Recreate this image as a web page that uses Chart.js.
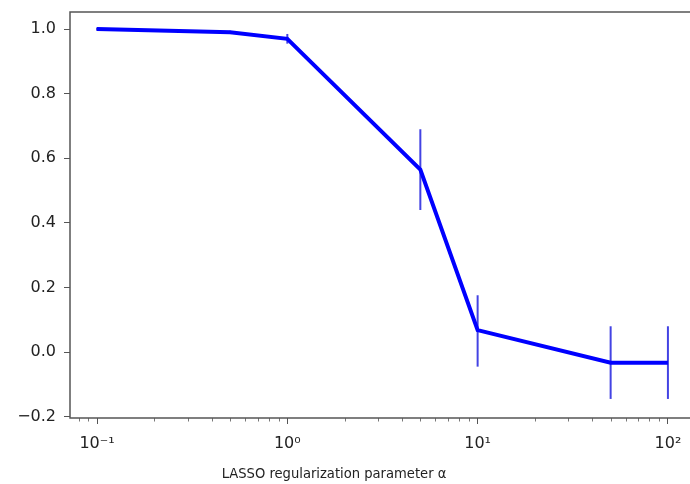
<!DOCTYPE html>
<html>
<head>
<meta charset="utf-8">
<script src="https://cdn.jsdelivr.net/npm/chart.js@4"></script>
<style>
  html, body { margin: 0; padding: 0; background: #fff; overflow: hidden; }
  canvas { display: block; }
</style>
</head>
<body>
<canvas id="lassoChart" width="690" height="484"></canvas>
<script>
// values
const alphas = [0.1, 0.5, 1, 5, 10, 50, 100];
const scores = [1.0, 0.99, 0.97, 0.565, 0.068, -0.033, -0.033];
const errLow = [0.995, 0.985, 0.955, 0.44, -0.045, -0.145, -0.145];
const errHigh = [1.005, 0.995, 0.985, 0.69, 0.176, 0.08, 0.08];
const xTicks = [0.1, 1, 10, 100];
const xTickLabels = ['10\u207B\u00B9', '10\u2070', '10\u00B9', '10\u00B2'];
const yTicks = [-0.2, 0.0, 0.2, 0.4, 0.6, 0.8, 1.0];
const xTitle = 'LASSO regularization parameter \u03B1';

const axisColor = '#555';
const textColor = '#222';

// error bars, minor ticks, frame and the x label
const extras = {
    id: 'extras',
    beforeDatasetsDraw(chart) {
        const ctx = chart.ctx;
        const xs = chart.scales.x, ys = chart.scales.y;
        ctx.save();
        ctx.strokeStyle = 'rgba(20,20,220,0.8)';
        ctx.lineWidth = 2;
        for (let i = 0; i < alphas.length; i++) {
            const px = xs.getPixelForValue(alphas[i]);
            ctx.beginPath();
            ctx.moveTo(px, ys.getPixelForValue(errLow[i]));
            ctx.lineTo(px, ys.getPixelForValue(errHigh[i]));
            ctx.stroke();
        }
        ctx.restore();
    },
    afterDraw(chart) {
        const ctx = chart.ctx;
        const a = chart.chartArea;
        const xs = chart.scales.x;
        ctx.save();
        ctx.strokeStyle = axisColor;
        ctx.lineWidth = 1.5;
        ctx.beginPath();
        ctx.moveTo(a.right, a.top);
        ctx.lineTo(a.left, a.top);
        ctx.lineTo(a.left, a.bottom);
        ctx.lineTo(a.right, a.bottom);
        ctx.stroke();
        // minor ticks on the log axis
        ctx.lineWidth = 0.8;
        for (let d = -2; d <= 2; d++) {
            for (let k = 2; k <= 9; k++) {
                const v = k * Math.pow(10, d);
                if (v < xs.min || v > xs.max) continue;
                const px = Math.round(xs.getPixelForValue(v)) + 0.5;
                ctx.beginPath();
                ctx.moveTo(px, a.bottom);
                ctx.lineTo(px, a.bottom + 3.5);
                ctx.stroke();
            }
        }
        // x axis label
        ctx.fillStyle = textColor;
        ctx.font = "14.6px 'DejaVu Sans Condensed', 'DejaVu Sans'";
        ctx.textAlign = 'center';
        ctx.textBaseline = 'middle';
        ctx.fillText(xTitle, 334, 474);
        ctx.restore();
    }
};

new Chart(document.getElementById('lassoChart').getContext('2d'), {
    type: 'line',
    data: {
        datasets: [{
            data: alphas.map((a, i) => ({ x: a, y: scores[i] })),
            borderColor: '#0000ff',
            borderWidth: 4,
            pointRadius: 0,
            tension: 0,
            fill: false
        }]
    },
    options: {
        responsive: false,
        animation: false,
        layout: { padding: { top: 12, right: 0, left: 0, bottom: 0 } },
        plugins: {
            legend: { display: false },
            tooltip: { enabled: false }
        },
        scales: {
            x: {
                type: 'logarithmic',
                min: Math.pow(10, -1.142),
                max: Math.pow(10, 2.116),
                afterBuildTicks(scale) {
                    scale.ticks = xTicks.map(v => ({ value: v }));
                },
                afterFit(scale) {
                    scale.height = 66;
                    scale.paddingLeft = 0;
                    scale.paddingRight = 0;
                },
                ticks: {
                    autoSkip: false,
                    maxRotation: 0,
                    color: textColor,
                    font: { family: 'DejaVu Sans', size: 16 },
                    padding: 10,
                    callback: (v) => {
                        const i = xTicks.indexOf(v);
                        return i >= 0 ? xTickLabels[i] : '';
                    }
                },
                grid: {
                    drawOnChartArea: false,
                    drawTicks: true,
                    tickLength: 6,
                    tickColor: axisColor,
                    tickWidth: 1
                },
                border: { display: false }
            },
            y: {
                min: -0.204,
                max: 1.053,
                afterBuildTicks(scale) {
                    scale.ticks = yTicks.map(v => ({ value: v }));
                },
                afterFit(scale) {
                    scale.width = 70;
                    scale.paddingTop = 0;
                    scale.paddingBottom = 0;
                },
                ticks: {
                    color: textColor,
                    font: { family: 'DejaVu Sans', size: 16 },
                    padding: 8,
                    callback: (v) => (v < 0 ? '\u2212' + Math.abs(v).toFixed(1) : v.toFixed(1))
                },
                grid: {
                    drawOnChartArea: false,
                    drawTicks: true,
                    tickLength: 6,
                    tickColor: axisColor,
                    tickWidth: 1
                },
                border: { display: false }
            }
        }
    },
    plugins: [extras]
});
</script>
</body>
</html>
